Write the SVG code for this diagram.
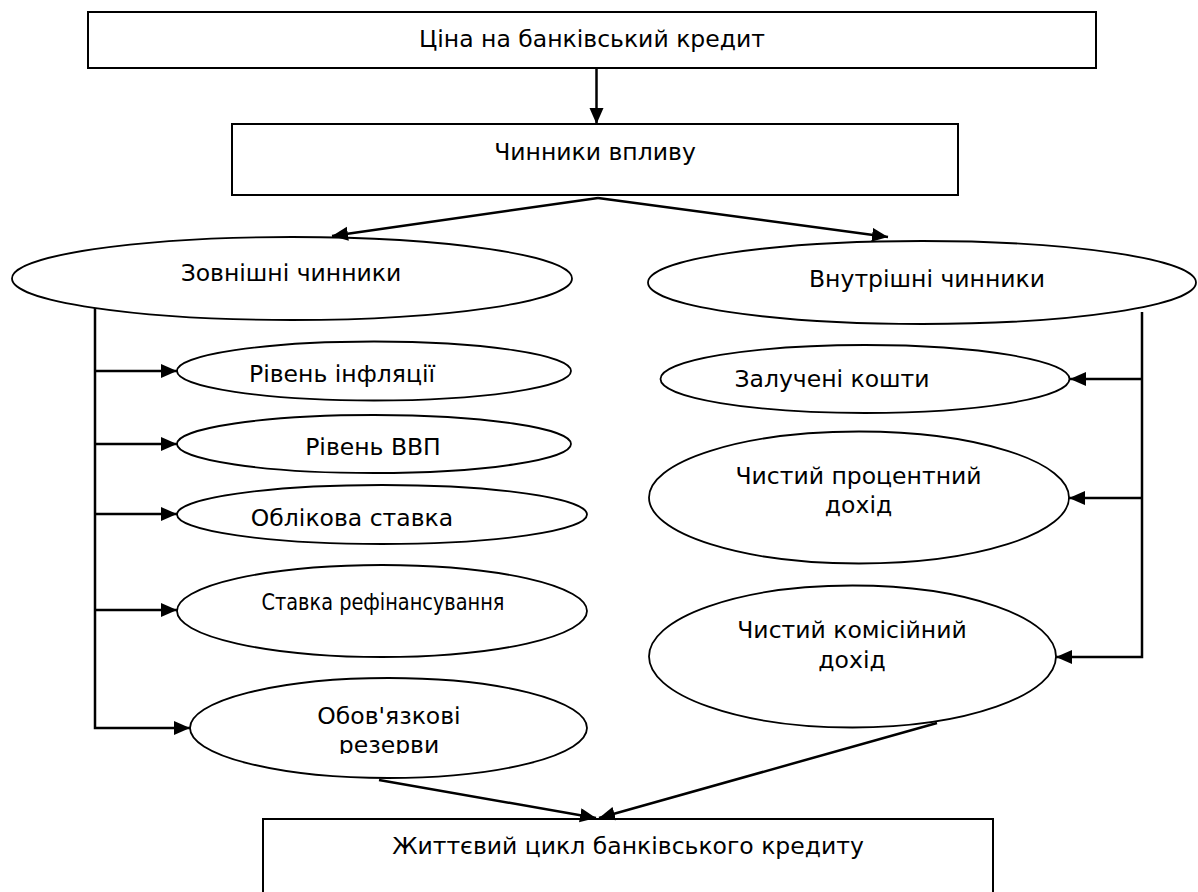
<svg xmlns="http://www.w3.org/2000/svg" width="1198" height="892" viewBox="0 0 1198 892">
<style>
.box{fill:#fff;stroke:#000;stroke-width:2}
.ell{fill:#fff;stroke:#000;stroke-width:1.8}
.con{fill:none;stroke:#000;stroke-width:2.5}
text{font-family:"DejaVu Sans",Verdana,sans-serif;font-size:23.5px;fill:#000;text-anchor:middle}
</style>
<defs>
<marker id="arr" markerUnits="userSpaceOnUse" markerWidth="17" markerHeight="15" refX="16" refY="7" orient="auto">
<path d="M0,0 L16,7 L0,14 z" fill="#000"/>
</marker>
<clipPath id="clipRez"><rect x="180" y="670" width="420" height="84"/></clipPath>
</defs>
<rect width="1198" height="892" fill="#fff"/>
<g id="n-price"><rect class="box" x="88" y="12" width="1008" height="56"/><text x="592" y="47">Ціна на банківський кредит</text></g>
<g id="n-factors"><rect class="box" x="232" y="124" width="726" height="71"/><text x="595" y="160">Чинники впливу</text></g>
<g id="n-external"><ellipse class="ell" cx="292" cy="278.5" rx="280" ry="41.5"/><text x="291" y="281">Зовнішні чинники</text></g>
<g id="n-internal"><ellipse class="ell" cx="922" cy="282.5" rx="274" ry="41.5"/><text x="927" y="287">Внутрішні чинники</text></g>
<g id="n-inflation"><ellipse class="ell" cx="374" cy="371" rx="197" ry="29.5"/><text x="342" y="382">Рівень інфляції</text></g>
<g id="n-gdp"><ellipse class="ell" cx="374" cy="444" rx="197" ry="29"/><text x="373" y="455">Рівень ВВП</text></g>
<g id="n-discount"><ellipse class="ell" cx="382" cy="514.5" rx="205" ry="29.5"/><text x="352" y="526">Облікова ставка</text></g>
<g id="n-refin"><ellipse class="ell" cx="382" cy="611" rx="205" ry="46"/><text x="383" y="610" textLength="243" lengthAdjust="spacingAndGlyphs">Ставка рефінансування</text></g>
<g id="n-reserves"><ellipse class="ell" cx="388.5" cy="728" rx="198.5" ry="50"/><text x="389" y="724">Обов'язкові</text><text x="389" y="753" clip-path="url(#clipRez)">резерви</text></g>
<g id="n-attracted"><ellipse class="ell" cx="865" cy="379" rx="204.5" ry="34"/><text x="832" y="387">Залучені кошти</text></g>
<g id="n-interest"><ellipse class="ell" cx="859" cy="497.5" rx="210" ry="66"/><text x="858.5" y="484">Чистий процентний</text><text x="858.5" y="513">дохід</text></g>
<g id="n-commission"><ellipse class="ell" cx="852.5" cy="656.5" rx="203.5" ry="71"/><text x="852" y="638">Чистий комісійний</text><text x="852" y="668">дохід</text></g>
<g id="n-lifecycle"><rect class="box" x="263" y="819" width="730" height="120"/><text x="628" y="854">Життєвий цикл банківського кредиту</text></g>
<g id="connectors">
<path class="con" d="M596.5,68 L596.5,124" marker-end="url(#arr)"/>
<path class="con" d="M598,198 L332,236" marker-end="url(#arr)"/>
<path class="con" d="M598,198 L888,237" marker-end="url(#arr)"/>
<path class="con" d="M95,308 V728 H190" marker-end="url(#arr)"/>
<path class="con" d="M95,371 H177" marker-end="url(#arr)"/>
<path class="con" d="M95,444 H177" marker-end="url(#arr)"/>
<path class="con" d="M95,514 H177" marker-end="url(#arr)"/>
<path class="con" d="M95,610 H177" marker-end="url(#arr)"/>
<path class="con" d="M1142,312 V657 H1056" marker-end="url(#arr)"/>
<path class="con" d="M1142,379 H1070" marker-end="url(#arr)"/>
<path class="con" d="M1142,498 H1069" marker-end="url(#arr)"/>
<path class="con" d="M379,780 L596,818" marker-end="url(#arr)"/>
<path class="con" d="M937,723 L599,818" marker-end="url(#arr)"/>
</g>
</svg>
